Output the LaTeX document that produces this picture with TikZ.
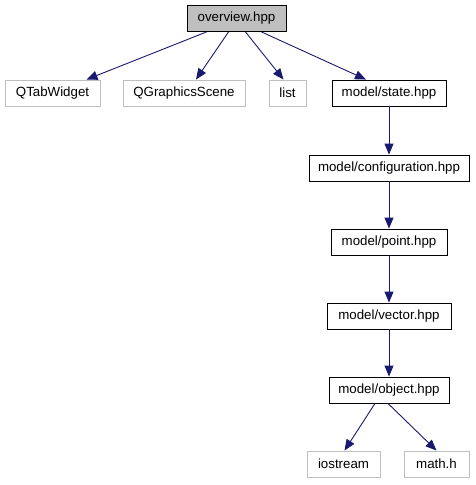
\documentclass[tikz,border=0pt]{standalone}
\usepackage{fontspec}
\setmainfont{Liberation Sans}
\usetikzlibrary{arrows.meta}
\definecolor{edgec}{HTML}{191970}
\definecolor{extc}{HTML}{BFBFBF}
\tikzset{
  box/.style={draw=black, line width=0.9pt, minimum height=26pt, inner sep=0pt, font=\fontsize{13.3}{15}\selectfont, anchor=center},
  extbox/.style={box, draw=extc},
  edge/.style={draw=edgec, line width=0.9pt, -{Triangle[length=11pt,width=9pt]}}
}
\begin{document}
\begin{tikzpicture}[x=1pt,y=-1pt]
\useasboundingbox (0,0) rectangle (475,485);
\node[box, fill=extc, minimum width=99pt] (ov) at (236.5,18.5) {overview.hpp};
\node[extbox, minimum width=95pt] (qtab) at (52.5,93) {QTabWidget};
\node[extbox, minimum width=122pt] (qgs) at (184,93) {QGraphicsScene};
\node[extbox, minimum width=37pt] (list) at (287.5,93) {list};
\node[box, minimum width=114pt] (state) at (389,93) {model/state.hpp};
\node[box, minimum width=160pt] (conf) at (389,168) {model/configuration.hpp};
\node[box, minimum width=116pt] (point) at (389,242) {model/point.hpp};
\node[box, minimum width=124pt] (vec) at (389,316) {model/vector.hpp};
\node[box, minimum width=120pt] (obj) at (389,390) {model/object.hpp};
\node[extbox, minimum width=73pt] (ios) at (343.5,464) {iostream};
\node[extbox, minimum width=65pt] (math) at (436.5,464) {math.h};
\draw[edge] ([xshift=-30pt]ov.south) -- ([xshift=34pt]qtab.north);
\draw[edge] ([xshift=-8pt]ov.south) -- ([xshift=12pt]qgs.north);
\draw[edge] ([xshift=9pt]ov.south) -- ([xshift=-4pt]list.north);
\draw[edge] ([xshift=25pt]ov.south) -- ([xshift=-23pt]state.north);
\draw[edge] (state) -- (conf);
\draw[edge] (conf) -- (point);
\draw[edge] (point) -- (vec);
\draw[edge] (vec) -- (obj);
\draw[edge] ([xshift=-14pt]obj.south) -- ([xshift=1pt]ios.north);
\draw[edge] ([xshift=-1pt]obj.south) -- ([xshift=0pt]math.north);
\end{tikzpicture}
\end{document}
